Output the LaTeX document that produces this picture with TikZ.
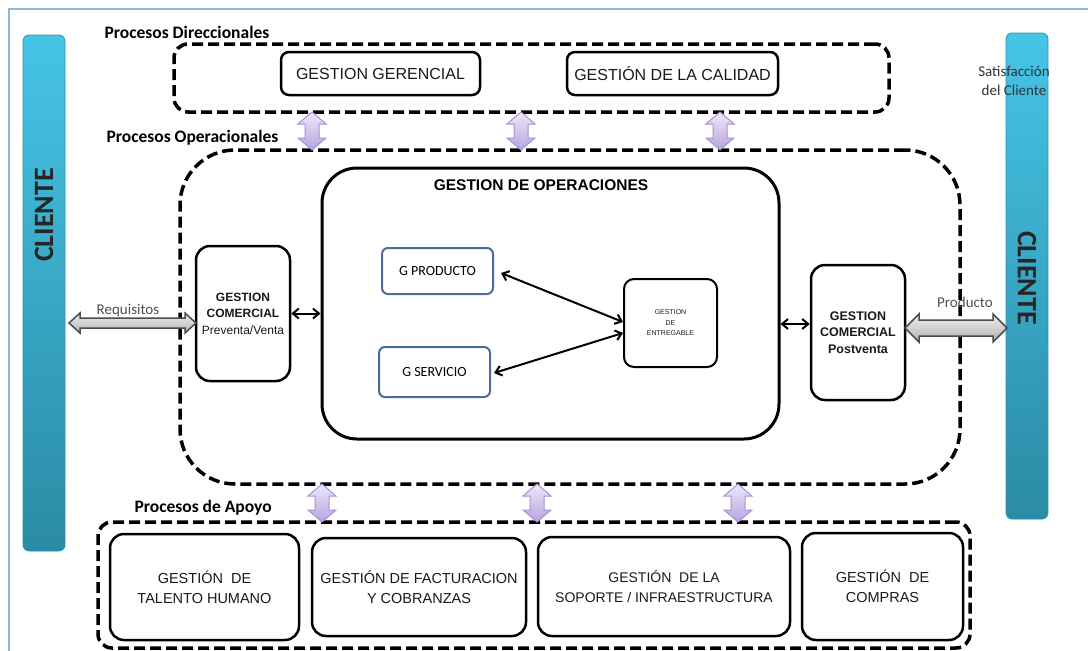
\documentclass[tikz,border=0pt]{standalone}
\usepackage{fontspec}
\setmainfont{Liberation Sans}
\newfontfamily\carl{Carlito}
\usetikzlibrary{arrows.meta,calc}

\definecolor{framec}{HTML}{8DB4E2}
\definecolor{bartop}{HTML}{46C4E6}
\definecolor{barbot}{HTML}{2A8BA4}
\definecolor{baredge}{HTML}{2C93AE}
\definecolor{subedge}{HTML}{4A6C9B}
\definecolor{lavtop}{HTML}{EFE8FB}
\definecolor{lavbot}{HTML}{B7A3E0}
\definecolor{lavedge}{HTML}{A592D4}
\definecolor{greytop}{HTML}{EDEDED}
\definecolor{greybot}{HTML}{B4B4B4}
\definecolor{labelc}{HTML}{505050}

% vertical block arrow: centre x, top y, bottom y
\newcommand\vblock[3]{%
  \draw[lavarrow] (#1,#2) -- ({#1+14},{#2+12}) -- ({#1+7},{#2+12}) -- ({#1+7},{#3-12})
    -- ({#1+14},{#3-12}) -- (#1,#3) -- ({#1-14},{#3-12}) -- ({#1-7},{#3-12})
    -- ({#1-7},{#2+12}) -- ({#1-14},{#2+12}) -- cycle;}
% horizontal block arrow: left x, right x, y, half shaft, half head, head length
\newcommand\hblock[6]{%
  \draw[greyarrow] (#1,#3) -- ({#1+#6},{#3-#5}) -- ({#1+#6},{#3-#4}) -- ({#2-#6},{#3-#4})
    -- ({#2-#6},{#3-#5}) -- (#2,#3) -- ({#2-#6},{#3+#5}) -- ({#2-#6},{#3+#4})
    -- ({#1+#6},{#3+#4}) -- ({#1+#6},{#3+#5}) -- cycle;}

\begin{document}
\begin{tikzpicture}[x=1pt,y=-1pt,
  region/.style={draw, line width=3.5pt, dash pattern=on 11pt off 5pt,
    rounded corners=14pt, inner sep=0},
  procbox/.style={draw, line width=2.5pt, rounded corners=8pt, align=center,
    inner sep=0, text=black!90},
  subbox/.style={draw=subedge, line width=2pt, rounded corners=6pt, inner sep=0,
    font=\carl\fontsize{14}{16}\selectfont},
  bar/.style={draw=baredge, line width=0.8pt, rounded corners=6pt, inner sep=0,
    top color=bartop, bottom color=barbot},
  sectitle/.style={anchor=west, font=\carl\bfseries\fontsize{17.5}{20}\selectfont},
  bartext/.style={font=\carl\bfseries\fontsize{28}{30}\selectfont, text=black!85},
  lavarrow/.style={draw=lavedge, line width=1pt, top color=lavtop, bottom color=lavbot},
  greyarrow/.style={draw=black!70, line width=1.5pt, top color=greytop, bottom color=greybot},
  link/.style={line width=2pt,
    {Straight Barb[length=6pt,width=10pt]}-{Straight Barb[length=6pt,width=10pt]}},
  arrlabel/.style={font=\carl\fontsize{15}{17}\selectfont, text=labelc},
  boxfont/.style={font=\fontsize{14.5}{20}\selectfont}
]
\useasboundingbox (0,0) rectangle (1088,651);

% outer frame
\draw[framec, line width=2pt] (1088,9) -- (9,9) -- (9,651);

% client bars
\node[bar, minimum width=42pt, minimum height=516pt] (clientL) at (44,293) {};
\node[bar, minimum width=42pt, minimum height=486pt] (clientR) at (1027,276) {};
\node[bartext, rotate=90] (clientLtxt) at (44,215) {CLIENTE};
\node[bartext, rotate=-90] (clientRtxt) at (1027,278) {CLIENTE};
\node[font=\carl\fontsize{15}{19}\selectfont, text=black!80, align=center]
  (satis) at (1014,81) {Satisfacción\\del Cliente};

% section regions
\node[region, minimum width=715pt, minimum height=68pt] (dir) at (531.5,78) {};
\node[region, rounded corners=55pt, minimum width=780pt, minimum height=334pt] (ops) at (570,317) {};
\node[region, minimum width=872pt, minimum height=126pt] (apoyo) at (534,585) {};

\node[sectitle] (tdir) at (101,32) {Procesos Direccionales};
\node[sectitle] (tops) at (103,138) {Procesos Operacionales};
\node[sectitle] (tapo) at (131,508) {Procesos de Apoyo};

% management processes
\node[procbox, font=\fontsize{16}{18}\selectfont, minimum width=199pt, minimum height=43pt]
  (gg) at (380.5,73.5) {GESTION GERENCIAL};
\node[procbox, font=\fontsize{16}{18}\selectfont, minimum width=211pt, minimum height=43pt]
  (gcal) at (672.5,73.5) {GESTIÓN DE LA CALIDAD};

% operations
\node[procbox, line width=3pt, rounded corners=35pt, minimum width=457pt, minimum height=271pt]
  (gop) at (550.5,303.5) {};
\node[font=\bfseries\fontsize{15.5}{17}\selectfont] (goptitle) at (541,185) {GESTION DE OPERACIONES};
\node[subbox, minimum width=111pt, minimum height=46pt] (gprod) at (437.5,271) {G PRODUCTO};
\node[subbox, minimum width=111pt, minimum height=50pt] (gserv) at (434.5,372) {G SERVICIO};
\node[procbox, line width=2pt, rounded corners=10pt, minimum width=93pt, minimum height=88pt,
  font=\fontsize{7}{10.5}\selectfont] (entreg) at (670.5,323) {GESTION\\DE\\ENTREGABLE};

\node[procbox, rounded corners=14pt, minimum width=94pt, minimum height=135pt,
  font=\fontsize{12}{16.5}\selectfont] (gcl) at (243,313.5)
  {\textbf{GESTION}\\\textbf{COMERCIAL}\\Preventa/Venta};
\node[procbox, rounded corners=14pt, minimum width=94pt, minimum height=135pt,
  font=\bfseries\fontsize{12.5}{16.5}\selectfont] (gcr) at (858,332.5)
  {GESTION\\COMERCIAL\\Postventa};

% support processes
\node[procbox, boxfont, rounded corners=14pt, minimum width=189pt, minimum height=106pt]
  (b1) at (204.5,587) {GESTIÓN~ DE\\TALENTO HUMANO};
\node[procbox, boxfont, rounded corners=14pt, minimum width=214pt, minimum height=98pt]
  (b2) at (419,587) {GESTIÓN DE FACTURACION\\Y COBRANZAS};
\node[procbox, boxfont, rounded corners=14pt, minimum width=252pt, minimum height=99pt,
  font=\fontsize{14}{20}\selectfont]
  (b3) at (664,586.5) {GESTIÓN~ DE LA\\SOPORTE / INFRAESTRUCTURA};
\node[procbox, boxfont, rounded corners=14pt, minimum width=161pt, minimum height=107pt]
  (b4) at (882.5,586.5) {GESTIÓN~ DE\\COMPRAS};

% links between processes
\draw[link] (gcl.east) -- (gcl.east -| gop.west);
\coordinate (rlink) at (0,324);
\draw[link] (rlink -| gop.east) -- (rlink -| gcr.west);
\draw[link] ([xshift=7pt,yshift=-2pt]gprod.east) -- ([yshift=1pt]entreg.west);
\draw[link] ([xshift=3pt,yshift=-1pt]gserv.east) -- ([yshift=-10pt]entreg.west);

% flows between sections
\vblock{312}{112}{150}
\vblock{521}{112}{150}
\vblock{720}{112}{150}
\vblock{322}{484}{522}
\vblock{537}{484}{522}
\vblock{738}{484}{522}

% customer flows
\hblock{69}{196}{323}{5}{10}{11}
\hblock{905}{1007}{328}{8}{14}{14}
\node[arrlabel] (lreq) at (128,311) {Requisitos};
\node[arrlabel] (lprod) at (965,302) {Producto};
\end{tikzpicture}
\end{document}
